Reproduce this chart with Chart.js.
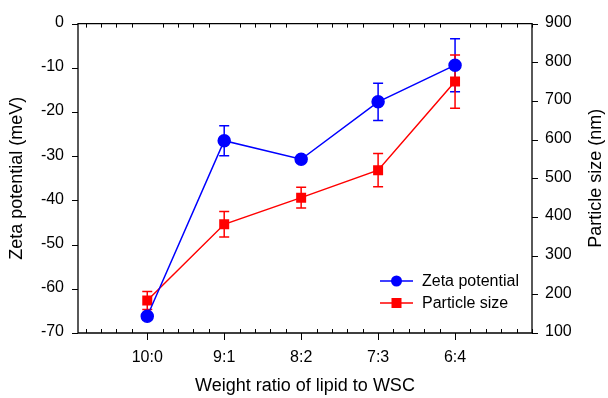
<!DOCTYPE html>
<html>
<head>
<meta charset="utf-8">
<script src="https://cdn.jsdelivr.net/npm/chart.js@4"></script>
<style>
html,body{margin:0;padding:0;background:#fff;}
#wrap{width:608px;height:398px;position:relative;}
</style>
</head>
<body>
<div id="wrap"><canvas id="c" width="608" height="398"></canvas></div>
<script>
const categories = ['10:0', '9:1', '8:2', '7:3', '6:4'];
const zeta = [-66.2, -26.5, -30.7, -17.7, -9.4];
const zetaErr = [0.8, 3.4, 0.6, 4.2, 6.0];
const sizeNm = [184, 381, 450, 521, 750];
const sizeErr = [23, 33, 27, 43, 69];
const leftTicks = [-70, -60, -50, -40, -30, -20, -10, 0];
const rightTicks = [100, 200, 300, 400, 500, 600, 700, 800, 900];

const FONT = 'Liberation Sans, Arial, sans-serif';
const FS = 16;

const toPts = arr => arr.map((v, i) => ({x: i + 1, y: v}));

const errorBars = {
  id: 'errorBars',
  beforeDatasetsDraw(chart) {
    const ctx = chart.ctx;
    const xs = chart.scales.x;
    chart.data.datasets.forEach(ds => {
      const ys = chart.scales[ds.yAxisID];
      ctx.save();
      ctx.strokeStyle = ds.borderColor;
      ctx.lineWidth = 1.5;
      ds.data.forEach((p, i) => {
        const e = ds.err[i];
        const px = xs.getPixelForValue(p.x);
        const yt = ys.getPixelForValue(p.y + e);
        const yb = ys.getPixelForValue(p.y - e);
        ctx.beginPath();
        ctx.moveTo(px, yt); ctx.lineTo(px, yb);
        ctx.moveTo(px - 5, yt); ctx.lineTo(px + 5, yt);
        ctx.moveTo(px - 5, yb); ctx.lineTo(px + 5, yb);
        ctx.stroke();
      });
      ctx.restore();
    });
  }
};

const frame = {
  id: 'frame',
  afterDraw(chart) {
    const ctx = chart.ctx;
    const a = chart.chartArea;
    const xs = chart.scales.x;
    const yl = chart.scales.y;
    const yr = chart.scales.y2;
    ctx.save();
    ctx.strokeStyle = '#000';
    ctx.lineWidth = 1.3;
    ctx.beginPath();
    ctx.rect(a.left, a.top, a.right - a.left, a.bottom - a.top);
    ctx.stroke();
    ctx.lineWidth = 1;
    ctx.beginPath();
    for (let k = 1; k <= 30; k++) {
      const v = k * 0.2;
      const px = Math.round(xs.getPixelForValue(v)) + 0.5;
      const major = Math.abs(v - Math.round(v)) < 1e-6 && Math.round(v) >= 1 && Math.round(v) <= 5;
      if (major) {
        ctx.moveTo(px, a.bottom); ctx.lineTo(px, a.bottom + 7);
      } else {
        ctx.moveTo(px, a.bottom); ctx.lineTo(px, a.bottom - 4);
        ctx.moveTo(px, a.top); ctx.lineTo(px, a.top + 4);
      }
    }
    leftTicks.forEach(v => {
      const py = Math.round(yl.getPixelForValue(v)) + 0.5;
      ctx.moveTo(a.left, py); ctx.lineTo(a.left - 6, py);
    });
    rightTicks.forEach(v => {
      const py = Math.round(yr.getPixelForValue(v)) + 0.5;
      ctx.moveTo(a.right, py); ctx.lineTo(a.right + 6, py);
    });
    ctx.stroke();

    ctx.fillStyle = '#000';
    ctx.font = '18px ' + FONT;
    ctx.textAlign = 'center';
    ctx.textBaseline = 'middle';
    const cy = (a.top + a.bottom) / 2;
    ctx.save();
    ctx.translate(17, cy);
    ctx.rotate(-Math.PI / 2);
    ctx.fillText('Zeta potential (meV)', 0, 0);
    ctx.restore();
    ctx.save();
    ctx.translate(596, cy);
    ctx.rotate(-Math.PI / 2);
    ctx.fillText('Particle size (nm)', 0, 0);
    ctx.restore();
    ctx.fillText('Weight ratio of lipid to WSC', (a.left + a.right) / 2, 386);

    ctx.font = '16px ' + FONT;
    ctx.textAlign = 'left';
    chart.data.datasets.forEach((ds, i) => {
      const ly = 281 + i * 22;
      ctx.strokeStyle = ds.borderColor;
      ctx.fillStyle = ds.borderColor;
      ctx.lineWidth = 1.5;
      ctx.beginPath();
      ctx.moveTo(380, ly); ctx.lineTo(413, ly);
      ctx.stroke();
      if (ds.pointStyle === 'circle') {
        ctx.beginPath(); ctx.arc(396.5, ly, 5.5, 0, Math.PI * 2); ctx.fill();
      } else {
        ctx.fillRect(396.5 - 5, ly - 5, 10, 10);
      }
      ctx.fillStyle = '#000';
      ctx.fillText(ds.label, 422, ly + 1);
    });
    ctx.restore();
  }
};

new Chart(document.getElementById('c'), {
  type: 'line',
  data: {
    datasets: [
      {
        label: 'Zeta potential',
        data: toPts(zeta),
        err: zetaErr,
        yAxisID: 'y',
        borderColor: '#0000FF',
        backgroundColor: '#0000FF',
        borderWidth: 1.5,
        pointStyle: 'circle',
        pointRadius: 6,
        pointHoverRadius: 6,
        order: 1
      },
      {
        label: 'Particle size',
        data: toPts(sizeNm),
        err: sizeErr,
        yAxisID: 'y2',
        borderColor: '#FF0000',
        backgroundColor: '#FF0000',
        borderWidth: 1.5,
        pointStyle: 'rect',
        pointRadius: 6,
        pointHoverRadius: 6,
        order: 2
      }
    ]
  },
  options: {
    responsive: false,
    animation: false,
    events: [],
    layout: {padding: {top: 19, left: 0, right: 0, bottom: 0}},
    plugins: {legend: {display: false}, tooltip: {enabled: false}},
    scales: {
      x: {
        type: 'linear',
        min: 0.1,
        max: 6.0,
        afterFit: s => { s.height = 65; },
        afterBuildTicks: s => { s.ticks = categories.map((c, i) => ({value: i + 1})); },
        grid: {display: false, drawTicks: false},
        border: {display: false},
        ticks: {
          padding: 15,
          color: '#000',
          font: {family: FONT, size: FS},
          maxRotation: 0,
          autoSkip: false,
          callback: v => categories[Math.round(v) - 1] || ''
        }
      },
      y: {
        type: 'linear',
        position: 'left',
        min: -70,
        max: 0,
        afterFit: s => { s.width = 78; },
        afterBuildTicks: s => { s.ticks = leftTicks.map(v => ({value: v})); },
        grid: {display: false, drawTicks: false},
        border: {display: false},
        ticks: {padding: 14, labelOffset: -1, color: '#000', font: {family: FONT, size: FS}}
      },
      y2: {
        type: 'linear',
        position: 'right',
        min: 100,
        max: 900,
        afterFit: s => { s.width = 76; },
        afterBuildTicks: s => { s.ticks = rightTicks.map(v => ({value: v})); },
        grid: {display: false, drawTicks: false},
        border: {display: false},
        ticks: {padding: 13, labelOffset: -1, color: '#000', font: {family: FONT, size: FS}}
      }
    }
  },
  plugins: [errorBars, frame]
});
</script>
</body>
</html>
